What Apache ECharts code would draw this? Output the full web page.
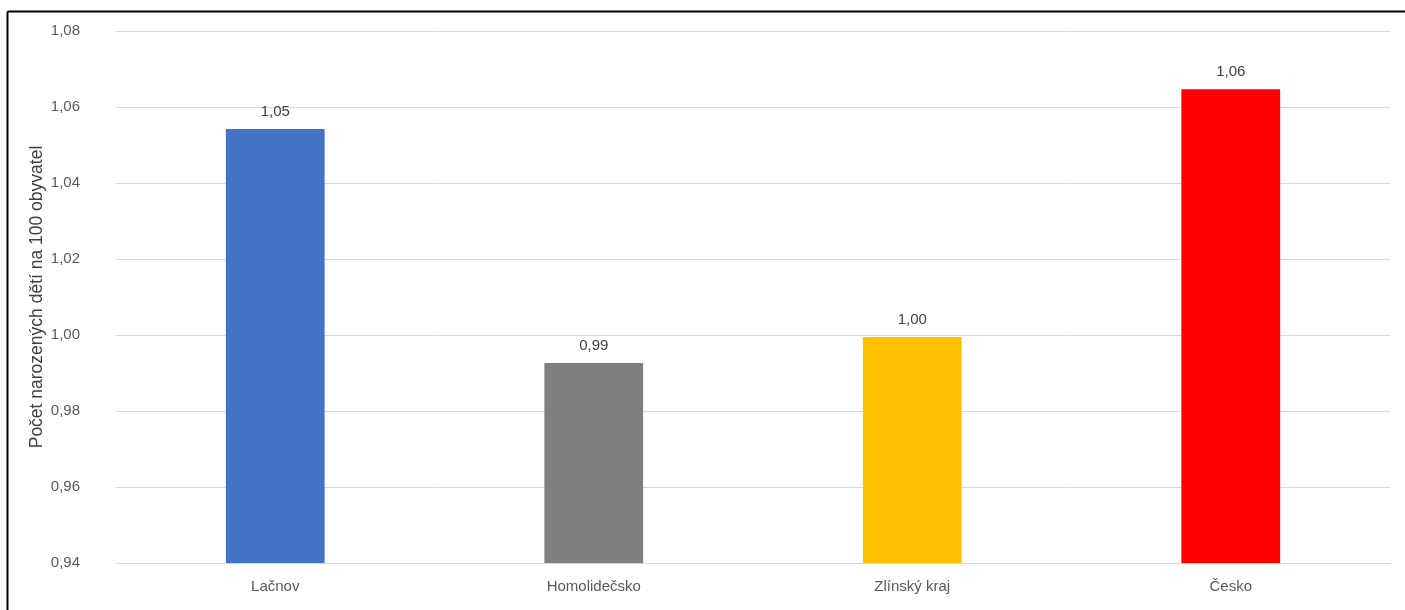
<!DOCTYPE html>
<html>
<head>
<meta charset="utf-8">
<script src="https://cdn.jsdelivr.net/npm/echarts@6/dist/echarts.min.js"></script>
<style>
html,body{margin:0;padding:0;background:#fff;}
#chart{width:1405px;height:610px;}
</style>
</head>
<body>
<div id="chart"></div>
<script>
const categories = ['Lačnov', 'Homolidečsko', 'Zlínský kraj', 'Česko'];
const values = [1.0542, 0.9926, 0.9995, 1.0647];
const barColors = ['#4472C4', '#7F7F7F', '#FFC000', '#FF0000'];
const yAxisName = 'Počet narozených dětí na 100 obyvatel';

const FONT = "'Liberation Sans Narrow', 'Liberation Sans', Arial, sans-serif";
const chart = echarts.init(document.getElementById('chart'));
chart.setOption({
  animation: false,
  backgroundColor: '#fff',
  graphic: [
    { type: 'line', shape: { x1: 7.5, y1: 11.5, x2: 1405, y2: 11.5 }, style: { stroke: '#000', lineWidth: 2 } },
    { type: 'line', shape: { x1: 7.5, y1: 11.5, x2: 7.5, y2: 610 }, style: { stroke: '#000', lineWidth: 2 } }
  ],
  grid: { left: 116, right: 15, top: 31, bottom: 47 },
  xAxis: {
    type: 'category',
    data: categories,
    axisTick: { show: false },
    axisLine: { lineStyle: { color: '#d9d9d9', width: 1 } },
    axisLabel: { color: '#595959', fontSize: 15, fontFamily: FONT, margin: 16 }
  },
  yAxis: {
    type: 'value',
    min: 0.94, max: 1.08, interval: 0.02,
    name: yAxisName,
    nameLocation: 'middle',
    nameGap: 70,
    nameMoveOverlap: false,
    nameTextStyle: { color: '#404040', fontSize: 17.5, fontFamily: FONT },
    axisLine: { show: false },
    axisTick: { show: false },
    splitLine: { lineStyle: { color: '#d9d9d9', width: 1 } },
    axisLabel: {
      color: '#595959', fontSize: 15, fontFamily: FONT, margin: 36,
      formatter: v => v.toFixed(2).replace('.', ',')
    }
  },
  series: [{
    type: 'bar',
    barWidth: '31%',
    data: values.map((v, i) => ({ value: v, itemStyle: { color: barColors[i] } })),
    label: {
      show: true, position: 'top', distance: 10,
      color: '#404040', fontSize: 15, fontFamily: FONT,
      formatter: p => p.value.toFixed(2).replace('.', ',')
    }
  }]
});
</script>
</body>
</html>
